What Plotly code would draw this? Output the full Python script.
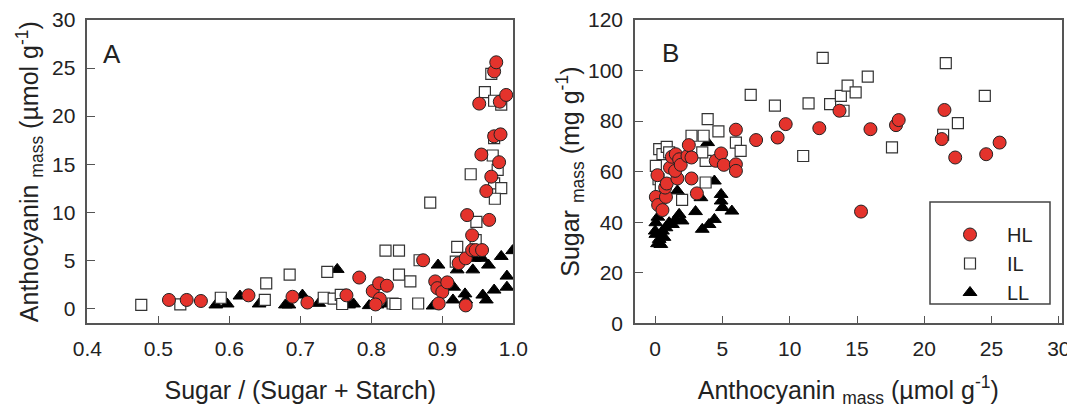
import plotly.graph_objects as go

# ---------------- Panel A data: Sugar/(Sugar+Starch) vs Anthocyanin_mass ----------------
A_HL_x = [0.515, 0.54, 0.56, 0.627, 0.689, 0.71, 0.765, 0.783, 0.802, 0.811, 0.822, 0.812, 0.806,
          0.873, 0.89, 0.893, 0.9, 0.907, 0.895, 0.933, 0.923, 0.933, 0.935, 0.942, 0.942, 0.947,
          0.956, 0.952, 0.955, 0.962, 0.966, 0.969, 0.973, 0.982, 0.98, 0.981, 0.99, 0.973, 0.976]
A_HL_y = [0.87, 0.87, 0.76, 1.35, 1.2, 0.6, 1.35, 3.2, 1.8, 2.6, 2.35, 1.0, 0.4,
          5.0, 2.8, 2.1, 1.7, 2.7, 0.5, 0.3, 4.7, 5.2, 9.7, 7.6, 6.06, 6.06,
          6.06, 21.3, 16.0, 12.2, 9.2, 13.7, 17.9, 18.1, 15.2, 21.5, 22.2, 24.65, 25.6]

A_IL_x = [0.476, 0.531, 0.588, 0.652, 0.65, 0.685, 0.733, 0.738, 0.747, 0.757, 0.759, 0.82,
          0.839, 0.83, 0.834, 0.839, 0.855, 0.866, 0.883, 0.868, 0.921, 0.919, 0.94, 0.948,
          0.947, 0.96, 0.969, 0.973, 0.983, 0.971, 0.978, 0.973, 0.983, 0.974, 0.973]
A_IL_y = [0.35, 0.4, 1.1, 2.6, 0.87, 3.5, 1.1, 3.8, 1.0, 1.4, 0.45, 6.0,
          6.0, 0.5, 0.45, 3.5, 2.8, 0.5, 11.0, 5.0, 6.4, 4.85, 13.95, 9.0,
          7.1, 22.5, 24.4, 21.6, 21.2, 15.9, 14.4, 13.0, 12.5, 11.4, 17.7]

A_LL_x = [0.581, 0.597, 0.615, 0.642, 0.679, 0.684, 0.703, 0.726, 0.745, 0.752, 0.768, 0.775,
          0.797, 0.808, 0.825, 0.887, 0.894, 0.916, 0.915, 0.921, 0.932, 0.933, 0.943, 0.945,
          0.957, 0.962, 0.965, 0.973, 0.983, 0.991, 0.991, 0.999, 0.956]
A_LL_y = [0.35, 0.45, 1.28, 0.45, 0.35, 0.35, 1.38, 0.52, 0.93, 4.05, 0.35, 0.45,
          0.28, 0.35, 0.45, 0.24, 4.5, 2.2, 0.87, 4.0, 1.5, 0.87, 4.0, 5.2,
          1.38, 0.87, 4.5, 1.9, 5.4, 3.35, 2.2, 6.0, 5.2]

# ---------------- Panel B data: Anthocyanin_mass vs Sugar_mass ----------------
B_HL_x = [0.17, 0.05, 0.22, 0.54, 0.8, 0.74, 0.86, 1.1, 1.24, 1.53, 1.65, 1.48, 1.78, 1.9,
          2.4, 2.5, 2.7, 2.7, 3.1, 4.5, 4.9, 5.1, 6.0, 6.0, 6.0, 7.5, 9.1, 9.7, 12.2, 13.7,
          15.3, 16.0, 17.9, 18.1, 21.3, 21.5, 22.3, 24.6, 25.6]
B_HL_y = [58.6, 50.0, 46.8, 44.8, 50.0, 53.7, 55.3, 61.6, 65.9, 66.9, 57.3, 60.3, 64.9, 62.7,
          66.2, 70.5, 65.6, 57.3, 51.4, 64.3, 67.2, 62.7, 76.6, 62.9, 60.3, 72.5, 73.5, 78.8,
          77.2, 84.1, 44.2, 76.8, 78.4, 80.4, 72.9, 84.4, 65.6, 66.9, 71.5]

B_IL_x = [0.05, 0.3, 0.54, 0.86, 0.25, 0.42, 1.04, 1.53, 2.0, 2.7, 3.6, 3.75, 3.9, 3.5, 3.75,
          4.7, 6.0, 6.35, 7.1, 8.9, 11.0, 11.4, 12.45, 13.0, 13.8, 14.0, 14.3, 14.9, 15.8,
          17.6, 21.4, 21.6, 22.5, 24.5]
B_IL_y = [62.3, 68.9, 66.9, 69.8, 57.0, 54.3, 67.6, 62.9, 48.8, 74.2, 74.2, 64.3, 80.8, 67.6,
          55.7, 75.9, 71.5, 68.2, 90.4, 86.1, 66.2, 87.0, 105.0, 86.7, 90.0, 84.1, 94.0, 91.4,
          97.6, 69.6, 74.6, 102.9, 79.2, 90.0]

B_LL_x = [0.05, 0.0, 0.05, 0.17, 0.42, 0.3, 0.54, 0.8, 1.04, 1.28, 1.53, 1.78, 2.0, 1.65,
          3.9, 3.0, 3.4, 3.5, 4.0, 4.4, 4.4, 4.9, 4.9, 5.0, 5.7, 0.2, 0.65]
B_LL_y = [39.8, 36.5, 35.2, 31.5, 31.2, 33.2, 36.5, 37.8, 39.8, 39.1, 41.1, 43.1, 40.5, 52.4,
          71.5, 44.2, 49.7, 37.2, 39.1, 41.1, 56.3, 51.0, 48.4, 45.8, 44.4, 42.0, 34.0]

A_xticks = [0.4, 0.5, 0.6, 0.7, 0.8, 0.9, 1.0]
A_yticks = [0, 5, 10, 15, 20, 25, 30]
B_xticks = [0, 5, 10, 15, 20, 25, 30]
B_yticks = [0, 20, 40, 60, 80, 100, 120]

FONT = "Arial, Liberation Sans, sans-serif"
TXT = "#222222"
FRAME = "#555555"
RED = "#E4332C"

styles = {
    "LL": dict(symbol="triangle-up", size=12, color="black", line=dict(color="black", width=1)),
    "IL": dict(symbol="square", size=11, color="white", line=dict(color="#333333", width=1.2)),
    "HL": dict(symbol="circle", size=13, color=RED, line=dict(color="#222222", width=1)),
}

fig = go.Figure()

# draw order: LL, IL, HL (HL on top); legend reversed to read HL, IL, LL
for name, xs, ys in [("LL", A_LL_x, A_LL_y), ("IL", A_IL_x, A_IL_y), ("HL", A_HL_x, A_HL_y)]:
    fig.add_trace(go.Scatter(x=xs, y=ys, mode="markers", name=name, marker=styles[name],
                             xaxis="x", yaxis="y", showlegend=False))
for name, xs, ys in [("LL", B_LL_x, B_LL_y), ("IL", B_IL_x, B_IL_y), ("HL", B_HL_x, B_HL_y)]:
    fig.add_trace(go.Scatter(x=xs, y=ys, mode="markers", name=name, marker=styles[name],
                             xaxis="x2", yaxis="y2", showlegend=True))

# the page body has an 8px margin, so the figure starts at (8, 8) in the window
OFF = 8
W, H = 1075 - OFF, 412 - OFF
def px_x(p): return (p - OFF) / W
def px_y(p): return 1 - (p - OFF) / H

common = dict(showline=True, linecolor=FRAME, linewidth=1.5, mirror=True, ticks="inside",
              ticklen=8, tickwidth=1, tickcolor=FRAME, showgrid=False, zeroline=False,
              tickfont=dict(family=FONT, size=21, color=TXT), automargin=False)

TITLE_FONT = dict(family=FONT, size=25, color=TXT)

fig.update_layout(
    width=W, height=H,
    margin=dict(l=0, r=0, t=0, b=0),
    paper_bgcolor="white", plot_bgcolor="white",
    font=dict(family=FONT, color=TXT),
    xaxis=dict(domain=[px_x(87.3), px_x(513.3)], anchor="y", range=[0.4, 1.0],
               tickvals=A_xticks, ticktext=[f"{v:.1f}" for v in A_xticks],
               ticklabelstandoff=6,
               title=dict(text="Sugar / (Sugar + Starch)", font=TITLE_FONT, standoff=22), **common),
    yaxis=dict(domain=[px_y(323.3), px_y(20)], anchor="x", range=[-1.56, 30],
               tickvals=A_yticks, ticklabelstandoff=6,
               title=dict(text="Anthocyanin <sub>mass</sub> (µmol g<sup>-1</sup>)",
                          font=TITLE_FONT, standoff=6), **common),
    xaxis2=dict(domain=[px_x(635), px_x(1061.5)], anchor="y2", range=[-1.5, 30.2],
                tickvals=B_xticks, ticklabelstandoff=6,
                title=dict(text="Anthocyanin <sub>mass</sub> (µmol g<sup>-1</sup>)",
                           font=TITLE_FONT, standoff=22), **common),
    yaxis2=dict(domain=[px_y(323.3), px_y(20)], anchor="x2", range=[0, 120],
                tickvals=B_yticks, ticklabelstandoff=6,
                title=dict(text="Sugar <sub>mass</sub> (mg g<sup>-1</sup>)",
                           font=TITLE_FONT, standoff=1), **common),
    legend=dict(x=px_x(933), y=px_y(215), xanchor="left", yanchor="top",
                traceorder="reversed", bgcolor="rgba(0,0,0,0)", borderwidth=0,
                itemwidth=64, font=dict(family=FONT, size=20, color=TXT),
                tracegroupgap=0),
    shapes=[dict(type="rect", xref="paper", yref="paper",
                 x0=px_x(930), x1=px_x(1050), y0=px_y(304), y1=px_y(202),
                 line=dict(color="#444444", width=1.5), fillcolor="rgba(0,0,0,0)", layer="above")],
    annotations=[
        dict(text="A", x=px_x(112), y=px_y(54), xref="paper", yref="paper", showarrow=False,
             xanchor="center", yanchor="middle", font=dict(family=FONT, size=26, color=TXT)),
        dict(text="B", x=px_x(670), y=px_y(53), xref="paper", yref="paper", showarrow=False,
             xanchor="center", yanchor="middle", font=dict(family=FONT, size=26, color=TXT)),
    ],
)

fig.write_html("out.html")
